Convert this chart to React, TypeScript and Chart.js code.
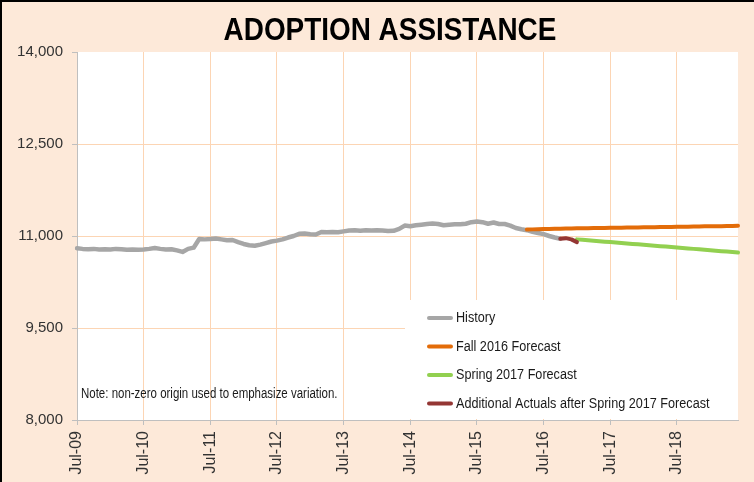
import React, { useEffect, useRef } from "react";
import { Chart, registerables } from "chart.js";

Chart.register(...registerables);

const MONTHS = ["Jul", "Aug", "Sep", "Oct", "Nov", "Dec", "Jan", "Feb", "Mar", "Apr", "May", "Jun"];
const FIRST_YEAR = 2009;
const YEAR_COUNT = 10;

const monthLabels: string[] = [];
for (let y = 0; y < YEAR_COUNT; y++) {
  for (let m = 0; m < 12; m++) {
    const year = m < 6 ? FIRST_YEAR + y : FIRST_YEAR + y + 1;
    monthLabels.push(`${MONTHS[m]}-${String(year % 100).padStart(2, "0")}`);
  }
}

const title = "ADOPTION ASSISTANCE";
const note = "Note: non-zero origin used to emphasize variation.";
const yTicks = [8000, 9500, 11000, 12500, 14000];

// History: Jul-09 .. Oct-16
const historyStart = 0;
const history = [
  10800, 10790, 10785, 10790, 10780, 10785, 10780, 10790, 10785, 10775, 10780, 10775,
  10780, 10790, 10805, 10790, 10780, 10785, 10765, 10740, 10790, 10810, 10950, 10945,
  10950, 10960, 10945, 10930, 10935, 10900, 10870, 10850, 10840, 10860, 10885, 10910,
  10925, 10945, 10975, 11000, 11035, 11040, 11030, 11025, 11065, 11060, 11065, 11060,
  11075, 11090, 11095, 11085, 11095, 11090, 11095, 11090, 11080, 11085, 11115, 11170,
  11160, 11175, 11185, 11195, 11205, 11195, 11175, 11185, 11190, 11190, 11200, 11225,
  11235, 11225, 11200, 11220, 11195, 11195, 11170, 11130, 11110, 11095, 11070, 11050,
  11030, 11000, 10975, 10955,
];

// Fall 2016 Forecast: Apr-16 .. Jun-19
const fallStart = 81;
const fall2016 = [
  11105, 11108, 11111, 11114, 11116, 11118, 11120, 11122, 11124, 11125, 11126, 11128,
  11129, 11131, 11132, 11133, 11135, 11136, 11137, 11139, 11140, 11141, 11143, 11144,
  11145, 11147, 11148, 11149, 11151, 11152, 11154, 11155, 11157, 11158, 11160, 11161,
  11163, 11165, 11167,
];

// Spring 2017 Forecast: Jan-17 .. Jun-19
const springStart = 90;
const spring2017 = [
  10945, 10938, 10931, 10923, 10916, 10908, 10901, 10894, 10886, 10879, 10871, 10864,
  10857, 10849, 10842, 10834, 10827, 10820, 10812, 10805, 10797, 10790, 10783, 10775,
  10768, 10760, 10753, 10746, 10738, 10731,
];

// Additional Actuals after Spring 2017 Forecast: Oct-16 .. Jan-17
const actualsStart = 87;
const additionalActuals = [10955, 10965, 10945, 10900];

const PEACH = "#FDE9D9";
const GRID = "#FCD5B4";
const AXIS = "#BFBFBF";
const FONT = "'Liberation Sans', Arial, sans-serif";

function place(values: number[], start: number) {
  return monthLabels.map((_, i) => (i >= start && i < start + values.length ? values[i - start] : null));
}

function narrowText(ctx: CanvasRenderingContext2D, text: string, x: number, y: number, factor: number) {
  const w = ctx.measureText(text).width;
  ctx.fillText(text, x, y, w * factor);
}

export default function App() {
  const ref = useRef<HTMLCanvasElement | null>(null);

  useEffect(() => {
    if (!ref.current) return;

    const bgPlugin = {
      id: "bg",
      beforeDraw(chart: any) {
        const { ctx, width, height, chartArea } = chart;
        ctx.save();
        ctx.fillStyle = PEACH;
        ctx.fillRect(0, 0, width, height);
        ctx.fillStyle = "#FFFFFF";
        ctx.fillRect(chartArea.left, chartArea.top, chartArea.right - chartArea.left, chartArea.bottom - chartArea.top);
        ctx.fillStyle = "#000000";
        ctx.fillRect(0, 0, width, 2);
        ctx.fillRect(0, 0, 2, height);
        ctx.restore();
      },
    };

    const legendPlugin = {
      id: "customLegend",
      beforeDatasetsDraw(chart: any) {
        const { ctx, chartArea } = chart;
        const boxW = 333;
        const boxH = 120;
        const left = chartArea.right - boxW;
        const top = chartArea.bottom - boxH;
        ctx.save();
        ctx.fillStyle = "#FFFFFF";
        ctx.fillRect(left, top, boxW, boxH - 1);
        chart.data.datasets.forEach((ds: any, i: number) => {
          const y = top + 18 + i * 28.5;
          ctx.strokeStyle = ds.borderColor;
          ctx.lineWidth = 4;
          ctx.lineCap = "round";
          ctx.beginPath();
          ctx.moveTo(left + 24, y);
          ctx.lineTo(left + 46, y);
          ctx.stroke();
          ctx.fillStyle = "#1a1a1a";
          ctx.font = `15.5px ${FONT}`;
          ctx.textBaseline = "middle";
          ctx.textAlign = "left";
          narrowText(ctx, ds.label, left + 51, y, 0.815);
        });
        ctx.restore();
      },
      afterDatasetsDraw(chart: any) {
        const { ctx, chartArea } = chart;
        ctx.save();
        ctx.fillStyle = "#1a1a1a";
        ctx.font = `14px ${FONT}`;
        ctx.textBaseline = "middle";
        ctx.textAlign = "left";
        narrowText(ctx, note, chartArea.left + 4, chartArea.bottom - 26, 0.82);
        ctx.restore();
      },
      afterDraw(chart: any) {
        const { ctx } = chart;
        ctx.save();
        ctx.fillStyle = "#000000";
        ctx.font = `bold 31px ${FONT}`;
        ctx.textBaseline = "middle";
        ctx.textAlign = "center";
        narrowText(ctx, title, 390, 31, 0.9);
        ctx.restore();
      },
    };

    const chart = new Chart(ref.current, {
      type: "line",
      data: {
        labels: monthLabels,
        datasets: [
          {
            label: "History",
            data: place(history, historyStart),
            borderColor: "#A6A6A6",
            borderWidth: 4.5,
            order: 3,
          },
          {
            label: "Fall 2016 Forecast",
            data: place(fall2016, fallStart),
            borderColor: "#E36C09",
            borderWidth: 4,
            order: 2,
          },
          {
            label: "Spring 2017 Forecast",
            data: place(spring2017, springStart),
            borderColor: "#92D050",
            borderWidth: 4,
            order: 1,
          },
          {
            label: "Additional Actuals after Spring 2017 Forecast",
            data: place(additionalActuals, actualsStart),
            borderColor: "#943634",
            borderWidth: 4,
            order: 0,
          },
        ].map((d) => ({
          ...d,
          pointRadius: 0,
          tension: 0,
          fill: false,
          borderCapStyle: "round" as const,
          borderJoinStyle: "round" as const,
          spanGaps: false,
        })),
      },
      options: {
        animation: false,
        responsive: false,
        devicePixelRatio: 1,
        layout: { padding: { top: 52, right: 16, left: 0, bottom: 0 } },
        plugins: {
          legend: { display: false },
          title: { display: false },
          tooltip: { enabled: false },
        },
        scales: {
          x: {
            type: "category",
            offset: false,
            grid: {
              color: (c: any) => (c.index % 12 === 0 && c.index > 0 ? GRID : "rgba(0,0,0,0)"),
              tickColor: (c: any) => (c.index % 12 === 0 ? AXIS : "rgba(0,0,0,0)"),
              tickLength: 5,
              lineWidth: 1,
            },
            border: { color: AXIS, width: 1 },
            ticks: {
              autoSkip: false,
              minRotation: 90,
              maxRotation: 90,
              padding: 6,
              color: "#333333",
              font: { family: FONT, size: 16 },
              callback: (_v: any, i: number) => (i % 12 === 0 ? monthLabels[i] : ""),
            },
            afterFit: (s: any) => {
              s.height = 62;
              s.paddingLeft = 0;
              s.paddingRight = 0;
            },
          },
          y: {
            min: yTicks[0],
            max: yTicks[yTicks.length - 1],
            afterBuildTicks: (s: any) => {
              s.ticks = yTicks.map((v) => ({ value: v }));
            },
            grid: {
              color: (c: any) =>
                c.tick && (c.tick.value === 14000 || c.tick.value === 8000) ? "rgba(0,0,0,0)" : GRID,
              tickColor: AXIS,
              tickLength: 5,
            },
            border: { color: AXIS, width: 1 },
            ticks: {
              padding: 9,
              color: "#333333",
              font: { family: FONT, size: 15 },
              callback: (v: any) => Number(v).toLocaleString("en-US"),
            },
            afterFit: (s: any) => {
              s.width = 77;
            },
          },
        },
      },
      plugins: [bgPlugin, legendPlugin],
    });

    return () => chart.destroy();
  }, []);

  return (
    <div style={{ position: "fixed", left: 0, top: 0, width: 754, height: 482 }}>
      <canvas ref={ref} width={754} height={482} style={{ width: 754, height: 482, display: "block" }} />
    </div>
  );
}
